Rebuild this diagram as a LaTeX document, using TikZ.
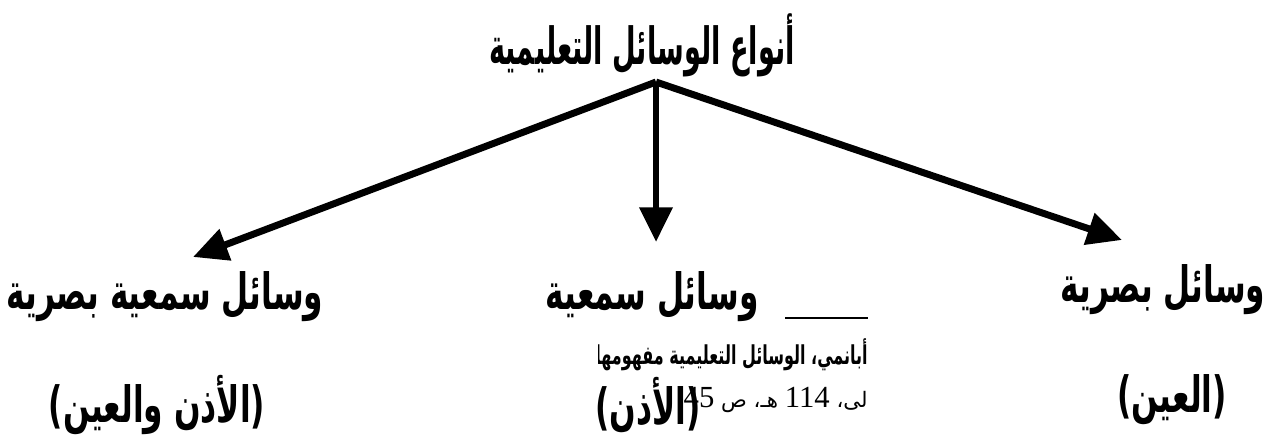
\documentclass[tikz,border=0pt]{standalone}
\usepackage{fontspec}
\usepackage{graphicx}
\usetikzlibrary{arrows.meta}
\TeXXeTstate=1
\newfontfamily\ar[Script=Arabic]{DejaVu Sans}
\newfontfamily\sr{Liberation Serif}
\newcommand\arlab[1]{\scalebox{0.78}[1.25]{\beginR #1\endR}}
\newcommand\artitle[1]{\scalebox{0.68}[1.28]{\beginR #1\endR}}
\tikzset{
  px/.style={x=0.75pt,y=-0.75pt},
  conn/.style={line width=5.2pt,-{Triangle[length=26pt,width=24pt]}},
  lab/.style={inner sep=0pt,font=\ar\bfseries\fontsize{30}{32}\selectfont},
  foot/.style={inner sep=0pt,anchor=east,font=\ar\bfseries\fontsize{15}{17}\selectfont},
  foot2/.style={inner sep=0pt,anchor=east,font=\ar\fontsize{16}{18}\selectfont},
  sepline/.style={line width=1.1pt},
}
\begin{document}
\begin{tikzpicture}[px]
\useasboundingbox (0,0) rectangle (1270,437);
% title
\node[lab] (title) at (642,45) {\artitle{أنواع الوسائل التعليمية}};
\coordinate (apex) at (656,82);
\coordinate (tl) at (193,257);
\coordinate (tm) at (656,242);
\coordinate (tr) at (1122,240);
\draw[conn] (apex) -- (tl);
\draw[conn] (apex) -- (tm);
\draw[conn] (apex) -- (tr);
% labels
\node[lab] (l1) at (165,297) {\arlab{وسائل سمعية بصرية}};
\node[lab] (l2) at (157,405) {\arlab{(الأذن والعين)}};
\node[lab] (m1) at (652,297) {\arlab{وسائل سمعية}};
\node[lab] (r1) at (1163,290) {\arlab{وسائل بصرية}};
\node[lab] (r2) at (1172,400) {\arlab{(العين)}};
% footnote
\coordinate (s1) at (785,318);
\coordinate (s2) at (868,318);
\draw[sepline] (s1) -- (s2);
\begin{scope}
\clip (598,330) rectangle (870,425);
\node[foot] (f1) at (868,355) {\scalebox{0.8}[1.3]{\beginR أبانمي، الوسائل التعليمية مفهومها واسس إستخد\endR}};
\node[foot2] (f2) at (868,400) {\beginR لى،\ \beginL{\sr\fontsize{23}{25}\selectfont 114}\endL{} هـ،\ ص\ \beginL{\sr\fontsize{23}{25}\selectfont 45}\endL\endR};
\end{scope}
\node[lab] (m2) at (648,405) {\arlab{(الأذن)}};
\end{tikzpicture}
\end{document}
